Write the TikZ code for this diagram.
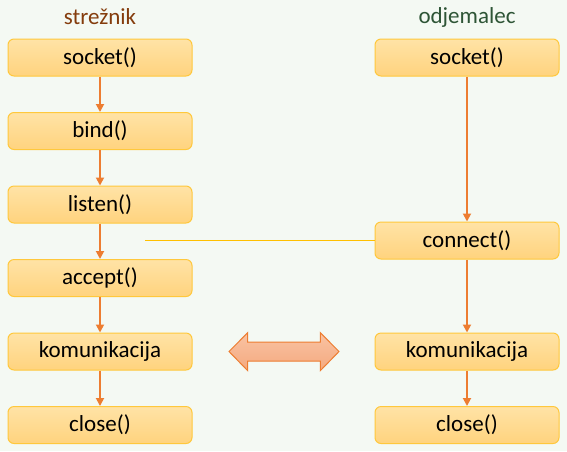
\documentclass[tikz,border=0pt]{standalone}
\usepackage{fontspec}
\setmainfont{Carlito}
\usetikzlibrary{arrows.meta,shadings}
\definecolor{bgcol}{HTML}{F4F9F3}
\definecolor{boxtop}{HTML}{FFE3A6}
\definecolor{boxbot}{HTML}{FFD37E}
\definecolor{boxline}{HTML}{FFC83C}
\definecolor{arrcol}{HTML}{ED7D31}
\definecolor{linkcol}{HTML}{FFC000}
\definecolor{srvcol}{HTML}{843C0C}
\definecolor{clicol}{HTML}{2E5536}
\definecolor{dbltop}{HTML}{F9C3A3}
\definecolor{dblbot}{HTML}{F4A97F}
\tikzset{
  stepbox/.style={draw=boxline, line width=1pt, rounded corners=6pt,
    top color=boxtop, bottom color=boxbot,
    minimum width=184pt, minimum height=37pt, inner sep=0pt,
    font=\fontsize{23}{27}\selectfont, text=black},
  header/.style={font=\fontsize{23}{27}\selectfont, inner sep=0pt},
  flow/.style={draw=arrcol, line width=1.8pt, -{Triangle[width=8pt,length=8pt]}},
  link/.style={draw=linkcol, line width=1.2pt}
}
\begin{document}
\begin{tikzpicture}[x=1pt,y=-1pt]
\useasboundingbox (0,0) rectangle (567,451);
\fill[bgcol] (0,0) rectangle (567,451);

\node[header, text=srvcol] (hs) at (100,17) {strežnik};
\node[header, text=clicol] (hc) at (467,17) {odjemalec};

\node[stepbox] (s1) at (100,57.5) {socket()};
\node[stepbox] (s2) at (100,131) {bind()};
\node[stepbox] (s3) at (100,204.5) {listen()};
\node[stepbox] (s4) at (100,278) {accept()};
\node[stepbox] (s5) at (100,351.5) {komunikacija};
\node[stepbox] (s6) at (100,425) {close()};

\node[stepbox] (c1) at (467,57.5) {socket()};
\node[stepbox] (c2) at (467,240.5) {connect()};
\node[stepbox] (c3) at (467,351.5) {komunikacija};
\node[stepbox] (c4) at (467,425) {close()};

\draw[flow] (s1) -- (s2);
\draw[flow] (s2) -- (s3);
\draw[flow] (s3) -- (s4);
\draw[flow] (s4) -- (s5);
\draw[flow] (s5) -- (s6);
\draw[flow] (c1) -- (c2);
\draw[flow] (c2) -- (c3);
\draw[flow] (c3) -- (c4);

\coordinate (lk) at (145,240.5);
\draw[link] (c2.west) -- (lk);

\path[draw=arrcol, line width=1pt, top color=dbltop, bottom color=dblbot]
  (229,351.5) -- (247.7,332.7) -- (247.7,342) -- (320.3,342) -- (320.3,332.7)
  -- (339,351.5) -- (320.3,370.7) -- (320.3,361) -- (247.7,361) -- (247.7,370.7) -- cycle;
\end{tikzpicture}
\end{document}
